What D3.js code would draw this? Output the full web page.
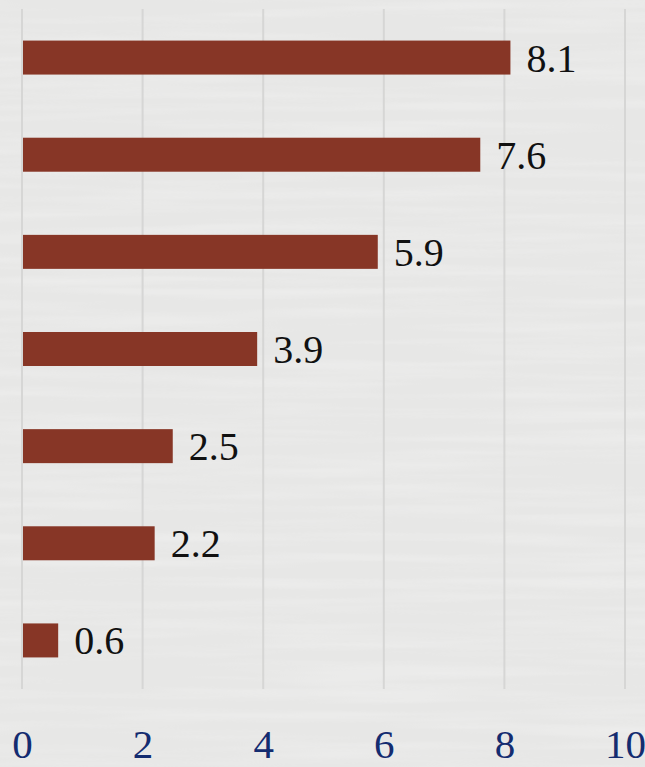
<!DOCTYPE html>
<html>
<head>
<meta charset="utf-8">
<script src="https://cdn.jsdelivr.net/npm/d3@7"></script>
<style>
  html, body { margin: 0; padding: 0; background: #e9e9e8; }
  svg { display: block; }
  svg text { font-family: "Liberation Serif", "Times New Roman", serif; }
</style>
</head>
<body>
<svg id="bar"></svg>
<script>
// data, top to bottom
var categories = ["A", "B", "C", "D", "E", "F", "G"];
var values = [8.1, 7.6, 5.9, 3.9, 2.5, 2.2, 0.6];
var xTicks = [0, 2, 4, 6, 8, 10];

var outerWidth = 645;
var outerHeight = 767;
var margin = { top: 9, left: 22, right: 20, bottom: 78 };
var width = 603;
var height = outerHeight - margin.top - margin.bottom;

var svg = d3.select("#bar").attr("width", outerWidth).attr("height", outerHeight);

// paper-ish background texture
var defs = svg.append("defs");
var filter = defs.append("filter").attr("id", "paper")
  .attr("x", 0).attr("y", 0).attr("width", "100%").attr("height", "100%");
filter.append("feTurbulence")
  .attr("type", "fractalNoise")
  .attr("baseFrequency", "0.004 0.09")
  .attr("numOctaves", 3)
  .attr("seed", 4);
filter.append("feColorMatrix")
  .attr("type", "matrix")
  .attr("values", "0 0 0 0 1  0 0 0 0 1  0 0 0 0 1  0 0 0 0.9 -0.35");

svg.append("rect")
  .attr("width", outerWidth).attr("height", outerHeight)
  .attr("fill", "#e7e7e6");
svg.append("rect")
  .attr("width", outerWidth).attr("height", outerHeight)
  .attr("filter", "url(#paper)")
  .attr("opacity", 0.5);

var cg = svg.append("g")
  .attr("transform", "translate(" + margin.left + "," + margin.top + ")");

var x = d3.scaleLinear().domain([0, 10]).range([0, width]);
var y = d3.scaleBand()
  .domain(categories)
  .range([0, height])
  .paddingInner(0.65)
  .paddingOuter(0.325);

// vertical gridlines
cg.append("g")
  .selectAll("line")
  .data(xTicks)
  .enter()
  .append("line")
  .attr("x1", (d) => x(d))
  .attr("x2", (d) => x(d))
  .attr("y1", 0)
  .attr("y2", height)
  .style("stroke", "#d6d6d5")
  .style("stroke-width", 2);

// x axis labels
var xAxis = d3.axisBottom(x).tickValues(xTicks).tickSize(0).tickPadding(0);
var cgx = cg.append("g").attr("transform", `translate(0,${height})`).call(xAxis);
cgx.select(".domain").remove();
cgx.attr("font-family", null).attr("font-size", null);
cgx.selectAll("text")
  .attr("y", 69)
  .attr("dy", 0)
  .attr("font-family", "Liberation Serif")
  .style("font-size", "41px")
  .style("fill", "#142c70");

var data = categories.map((c, i) => ({ name: c, value: values[i] }));

cg.selectAll("rect.bar")
  .data(data)
  .enter()
  .append("rect")
  .attr("class", "bar")
  .attr("x", x(0) + 1)
  .attr("y", (d) => y(d.name))
  .attr("width", (d) => x(d.value) - x(0) - 1)
  .attr("height", y.bandwidth())
  .attr("fill", "#873626");

cg.selectAll("text.val")
  .data(data)
  .enter()
  .append("text")
  .attr("class", "val")
  .attr("x", (d) => x(d.value) + 16)
  .attr("y", (d) => y(d.name) + y.bandwidth() / 2)
  .attr("dy", "0.35em")
  .attr("font-family", "Liberation Serif")
  .style("font-size", "40px")
  .style("fill", "#111")
  .text((d) => d.value.toFixed(1));
</script>
</body>
</html>
